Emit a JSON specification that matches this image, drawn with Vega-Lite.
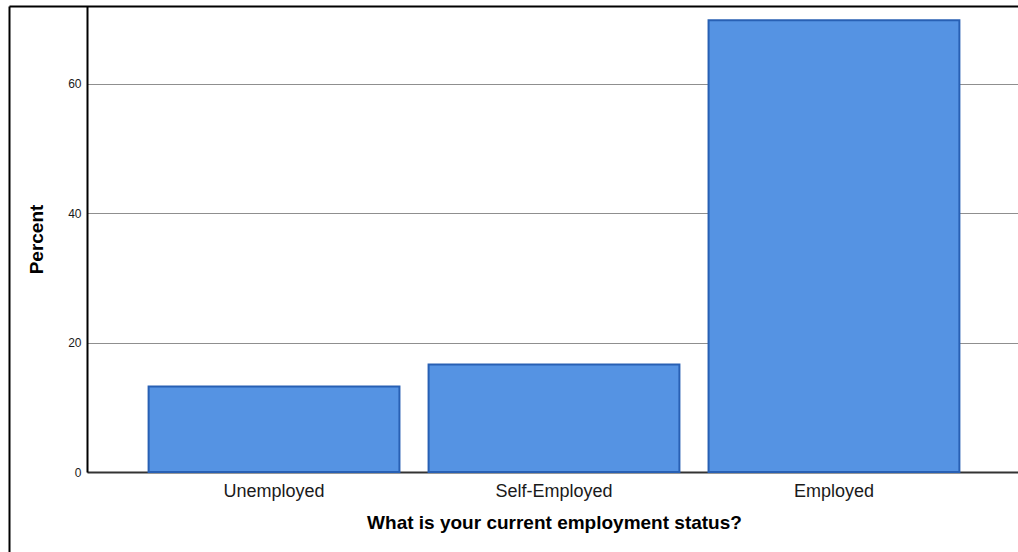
{
  "$schema": "https://vega.github.io/schema/vega-lite/v6.json",
  "autosize": "none",
  "padding": {"left": 87, "top": 6, "right": 0, "bottom": 80},
  "width": 934,
  "height": 466,
  "background": "white",
  "config": {
    "view": {"stroke": null},
    "font": "Liberation Sans"
  },
  "data": {
    "values": [
      {"status": "Unemployed", "percent": 13.2},
      {"status": "Self-Employed", "percent": 16.6},
      {"status": "Employed", "percent": 69.8}
    ]
  },
  "layer": [
    {
      "mark": {"type": "bar", "fill": "#5593E3", "stroke": "#2860B4", "strokeWidth": 2},
      "encoding": {
        "x": {
          "field": "status",
          "type": "nominal",
          "sort": ["Unemployed", "Self-Employed", "Employed"],
          "scale": {"paddingInner": 0.104, "paddingOuter": 0.22},
          "axis": {
            "title": "What is your current employment status?",
            "titleFont": "Liberation Sans",
            "titleFontSize": 19,
            "titleFontWeight": "bold",
            "titleColor": "#000000",
            "titlePadding": 13,
            "labelAngle": 0,
            "labelFont": "Liberation Sans",
            "labelFontSize": 18,
            "labelColor": "#1a1a1a",
            "labelPadding": 10,
            "ticks": false,
            "domainColor": "#333333",
            "domainWidth": 2,
            "grid": false
          }
        },
        "y": {
          "field": "percent",
          "type": "quantitative",
          "scale": {"domain": [0, 72], "nice": false},
          "axis": {
            "title": "Percent",
            "titleFont": "Liberation Sans",
            "titleFontSize": 19,
            "titleFontWeight": "bold",
            "titleColor": "#000000",
            "titlePadding": 21,
            "values": [0, 20, 40, 60],
            "labelFont": "Liberation Sans",
            "labelFontSize": 12,
            "labelColor": "#1a1a1a",
            "labelPadding": 6,
            "ticks": false,
            "domainColor": "#000000",
            "domainWidth": 2,
            "grid": true,
            "gridColor": "#8f8f8f",
            "gridWidth": 1
          }
        }
      }
    },
    {
      "mark": {"type": "point", "opacity": 0},
      "encoding": {
        "x": {
          "field": "percent",
          "type": "quantitative",
          "scale": {"range": [-78, 940]},
          "axis": {
            "orient": "top",
            "title": null,
            "labels": false,
            "ticks": false,
            "grid": false,
            "domainColor": "#000000",
            "domainWidth": 2
          }
        },
        "y": {
          "field": "percent",
          "type": "quantitative",
          "scale": {"range": [546, 0]},
          "axis": {
            "orient": "left",
            "offset": 78,
            "title": null,
            "labels": false,
            "ticks": false,
            "grid": false,
            "domainColor": "#000000",
            "domainWidth": 2
          }
        }
      }
    }
  ],
  "resolve": {
    "scale": {"x": "independent", "y": "independent"},
    "axis": {"x": "independent", "y": "independent"}
  }
}
